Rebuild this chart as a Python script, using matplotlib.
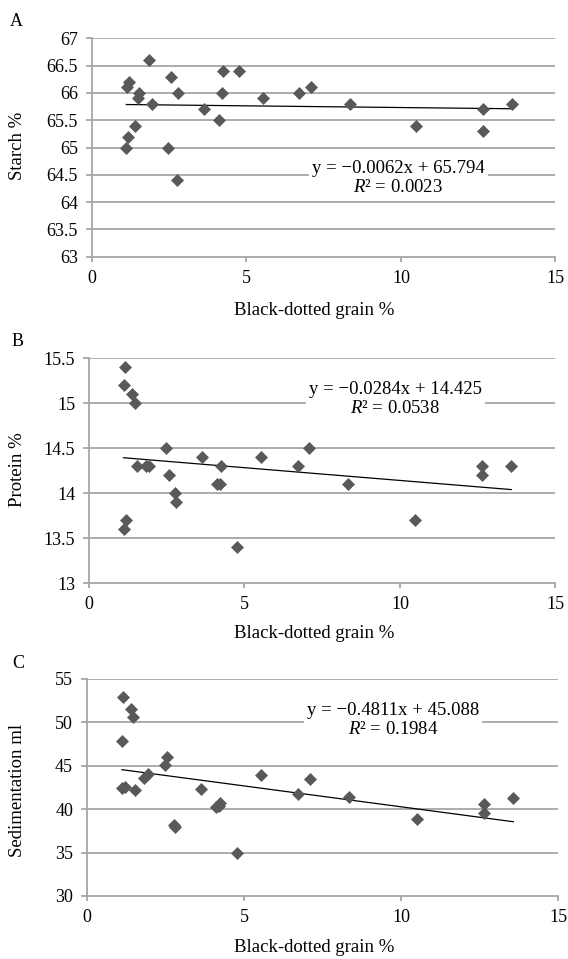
import matplotlib
matplotlib.use("Agg")
import matplotlib.pyplot as plt
import numpy as np

plt.rcParams['font.family'] = ['Liberation Serif', 'DejaVu Serif']
plt.rcParams['mathtext.fontset'] = 'custom'
plt.rcParams['mathtext.rm'] = 'Liberation Serif'
plt.rcParams['mathtext.it'] = 'Liberation Serif:italic'

# ---------------- data ----------------
black_dotted = [1.11, 1.13, 1.16, 1.20, 1.39, 1.48, 1.53, 1.83, 1.94, 2.47, 2.56,
                2.76, 2.79, 3.64, 4.12, 4.20, 4.23, 4.77, 5.53, 6.71, 7.09, 8.34,
                10.50, 12.65, 12.65, 13.58]
starch = [65.0, 66.1, 65.2, 66.2, 65.4, 65.9, 66.0, 66.6, 65.8, 65.0, 66.3,
          64.4, 66.0, 65.7, 65.5, 66.0, 66.4, 66.4, 65.9, 66.0, 66.1, 65.8,
          65.4, 65.7, 65.3, 65.8]
protein = [13.6, 15.2, 15.4, 13.7, 15.1, 15.0, 14.3, 14.3, 14.3, 14.5, 14.2,
           14.0, 13.9, 14.4, 14.1, 14.1, 14.3, 13.4, 14.4, 14.3, 14.5, 14.1,
           13.7, 14.3, 14.2, 14.3]
sedimentation = [42.4, 47.9, 52.9, 42.6, 51.6, 50.6, 42.2, 43.6, 44.0, 45.1, 46.0,
                 38.2, 37.9, 42.3, 40.3, 40.4, 40.7, 35.0, 43.9, 41.7, 43.5, 41.4,
                 38.9, 40.6, 39.6, 41.3]

panel_letters = ["A", "B", "C"]
y_labels = ["Starch %", "Protein %", "Sedimentation ml"]
x_label = "Black-dotted grain %"
slopes = [-0.0062, -0.0284, -0.4811]
intercepts = [65.794, 14.425, 45.088]
eq_texts = ["y = \u22120.0062x + 65.794", "y = \u22120.0284x + 14.425", "y = \u22120.4811x + 45.088"]
r2_texts = ["0.0023", "0.0538", "0.1984"]
y_ticks = [[63, 63.5, 64, 64.5, 65, 65.5, 66, 66.5, 67],
           [13, 13.5, 14, 14.5, 15, 15.5],
           [30, 35, 40, 45, 50, 55]]
x_ticks = [0, 5, 10, 15]

# ---------------- layout ----------------
W, H = 568, 959
fig = plt.figure(figsize=(W / 100, H / 100), dpi=100)

def px_axes(l, r, t, b):
    return [l / W, 1 - b / H, (r - l) / W, (b - t) / H]

axes_px = [(92, 555.4, 38.3, 256.7), (89, 555.4, 358.3, 583.0), (87, 558, 679, 896)]
eq_pos = [(9.92, 64.44), (9.85, 15.05), (9.75, 50.25)]
letter_px = [(16, 22), (18, 342), (18, 663)]
ylabel_px = [(17, 146), (18, 470), (17.5, 790)]
xlabel_py = [311, 633, 948]

grid_color = '#a6a6a6'
marker_color = '#595959'
fs_tick = 13
fs_lab = 13.5

series = [starch, protein, sedimentation]
for i in range(3):
    ax = fig.add_axes(px_axes(*axes_px[i]))
    yt = y_ticks[i]
    ax.set_xlim(x_ticks[0], x_ticks[-1])
    ax.set_ylim(yt[0], yt[-1])
    for v in yt[1:]:
        ax.axhline(v, color=grid_color, lw=1.3, zorder=1)
    ax.plot(black_dotted, series[i], linestyle='none', marker='D', ms=6.4,
            mfc=marker_color, mec=marker_color, mew=0.5, zorder=3)
    xs = np.array([min(black_dotted), max(black_dotted)])
    ax.plot(xs, slopes[i] * xs + intercepts[i], color='black', lw=0.9, zorder=2)
    ax.text(eq_pos[i][0], eq_pos[i][1],
            eq_texts[i] + "\n" + r"$R$" + "\u00b2 = " + r2_texts[i],
            ha='center', va='center', fontsize=fs_lab, linespacing=1.15, zorder=4,
            bbox=dict(facecolor='white', edgecolor='none', pad=2))
    ax.set_yticks(yt)
    ax.set_yticklabels([f"{v:g}" for v in yt])
    ax.set_xticks(x_ticks)
    ax.set_xticklabels([str(v) for v in x_ticks])
    for s in ['top', 'right']:
        ax.spines[s].set_visible(False)
    for s in ['left', 'bottom']:
        ax.spines[s].set_color(grid_color)
        ax.spines[s].set_linewidth(1.3)
    ax.tick_params(axis='y', length=4, width=1.3, color=grid_color, pad=6, labelsize=fs_tick)
    ax.tick_params(axis='x', length=3.5, width=1.3, color=grid_color, pad=6, labelsize=fs_tick)
    fig.text(letter_px[i][0] / W, 1 - letter_px[i][1] / H, panel_letters[i],
             ha='center', va='center', fontsize=fs_tick)
    fig.text(ylabel_px[i][0] / W, 1 - ylabel_px[i][1] / H, y_labels[i],
             rotation=90, ha='center', va='center', fontsize=fs_lab)
    fig.text(314 / W, 1 - xlabel_py[i] / H, x_label, ha='center', va='center', fontsize=fs_lab)

fig.savefig("out.png", dpi=100, facecolor='white')
